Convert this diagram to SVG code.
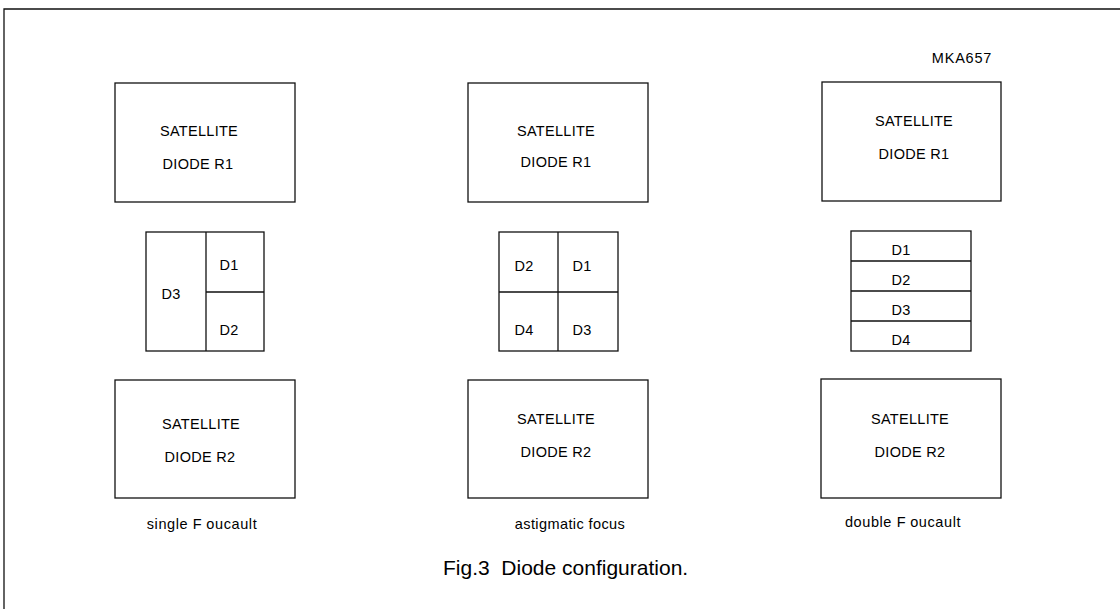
<svg xmlns="http://www.w3.org/2000/svg" width="1120" height="609" viewBox="0 0 1120 609">
<style>
.b{fill:none;stroke:#111;stroke-width:1.3}
.t{font-family:"Liberation Sans",Arial,sans-serif;font-size:14.5px;fill:#000;text-anchor:middle;letter-spacing:0.3px}
.c{font-family:"Liberation Sans",Arial,sans-serif;font-size:21px;fill:#000;white-space:pre}
</style>
<rect width="1120" height="609" fill="#fff"/>
<path class="b" d="M4,609 V9 H1120"/>
<text class="t" x="962" y="63" style="letter-spacing:0.8px">MKA657</text>

<g id="col1-r1"><rect class="b" x="115" y="83" width="180" height="119"/><text class="t" x="199" y="136">SATELLITE</text><text class="t" x="198" y="169">DIODE R1</text></g>
<g id="col1-grid"><rect class="b" x="146" y="232" width="118" height="119"/><path class="b" d="M206,232 V351 M206,292 H264"/><text class="t" x="229" y="270">D1</text><text class="t" x="171" y="299">D3</text><text class="t" x="229" y="335">D2</text></g>
<g id="col1-r2"><rect class="b" x="115" y="380" width="180" height="118"/><text class="t" x="201" y="429">SATELLITE</text><text class="t" x="200" y="462">DIODE R2</text></g>
<text class="t" x="202" y="529" style="letter-spacing:0.6px">single F<tspan dx="4">oucault</tspan></text>

<g id="col2-r1"><rect class="b" x="468" y="83" width="180" height="119"/><text class="t" x="556" y="136">SATELLITE</text><text class="t" x="556" y="167">DIODE R1</text></g>
<g id="col2-grid"><rect class="b" x="499" y="232" width="119" height="119"/><path class="b" d="M558,232 V351 M499,292 H618"/><text class="t" x="524" y="271">D2</text><text class="t" x="582" y="271">D1</text><text class="t" x="524" y="335">D4</text><text class="t" x="582" y="335">D3</text></g>
<g id="col2-r2"><rect class="b" x="468" y="380" width="180" height="118"/><text class="t" x="556" y="424">SATELLITE</text><text class="t" x="556" y="457">DIODE R2</text></g>
<text class="t" x="570" y="529" style="letter-spacing:0.4px">astigmatic focus</text>

<g id="col3-r1"><rect class="b" x="822" y="82" width="179" height="119"/><text class="t" x="914" y="126">SATELLITE</text><text class="t" x="914" y="159">DIODE R1</text></g>
<g id="col3-stack"><rect class="b" x="851" y="231" width="120" height="120"/><path class="b" d="M851,261 H971 M851,291 H971 M851,321 H971"/><text class="t" x="901" y="255">D1</text><text class="t" x="901" y="285">D2</text><text class="t" x="901" y="315">D3</text><text class="t" x="901" y="345">D4</text></g>
<g id="col3-r2"><rect class="b" x="821" y="379" width="180" height="119"/><text class="t" x="910" y="424">SATELLITE</text><text class="t" x="910" y="457">DIODE R2</text></g>
<text class="t" x="903" y="527" style="letter-spacing:0.6px">double F<tspan dx="4">oucault</tspan></text>

<text class="c" x="443" y="575" xml:space="preserve">Fig.3  Diode configuration.</text>
</svg>
